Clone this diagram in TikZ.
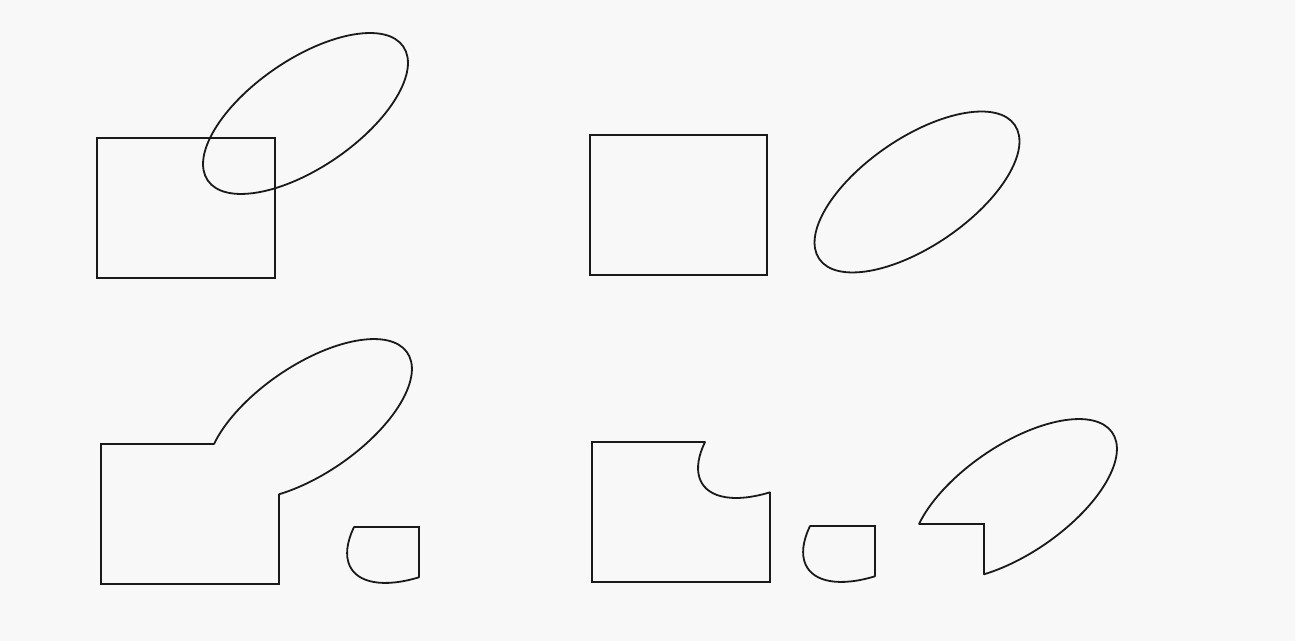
\documentclass[tikz,border=0pt]{standalone}
\definecolor{ink}{HTML}{1A1A1A}
\definecolor{paper}{HTML}{F8F8F8}
\begin{document}
\begin{tikzpicture}[x=0.5pt,y=0.5pt,
  straight/.style={line width=1.3pt, draw=ink, line join=miter},
  curved/.style={line width=0.9pt, draw=ink, line cap=round},
  unionshape/.pic={
    \draw[curved] (113,0) {[rotate=34.4] arc[start angle=141.4,end angle=-124.7,x radius=118.5,y radius=54.1]};
    \draw[straight] (113,0) -- (0,0) -- (0,-140) -- (178,-140) -- (178,-50.3);
  },
  interpiece/.pic={
    \draw[curved] (178,-50.3) {[rotate=34.4] arc[start angle=235.3,end angle=141.4,x radius=118.5,y radius=54.1]};
    \draw[straight] (113,0) -- (178,0) -- (178,-50.3);
  },
  rectminus/.pic={
    \draw[curved] (113,0) {[rotate=34.4] arc[start angle=141.4,end angle=235.3,x radius=118.5,y radius=54.1]};
    \draw[straight] (113,0) -- (0,0) -- (0,-140) -- (178,-140) -- (178,-50.3);
  },
  ellminus/.pic={
    \draw[curved] (113,0) {[rotate=34.4] arc[start angle=141.4,end angle=-124.7,x radius=118.5,y radius=54.1]};
    \draw[straight] (113,0) -- (178,0) -- (178,-50.3);
  }
]
\fill[paper] (0,0) rectangle (1295,641);
\useasboundingbox (0,0) rectangle (1295,641);

% top left: rectangle and overlapping ellipse
\draw[straight] (97,503) rectangle (275,363);
\draw[curved, rotate around={34.4:(305.5,527.5)}] (305.5,527.5) ellipse[x radius=118.5, y radius=54.1];

% top right: separate rectangle and ellipse
\draw[straight] (590,506) rectangle (767,366);
\draw[curved, rotate around={34.4:(917,449)}] (917,449) ellipse[x radius=118.5, y radius=54.1];

% bottom left: union and intersection piece
\pic at (101,197) {unionshape};
\pic at (241,114) {interpiece};

% bottom right: rectangle minus ellipse, intersection, ellipse minus rectangle
\pic at (592,199) {rectminus};
\pic at (697,115) {interpiece};
\pic at (806,117) {ellminus};
\end{tikzpicture}
\end{document}
